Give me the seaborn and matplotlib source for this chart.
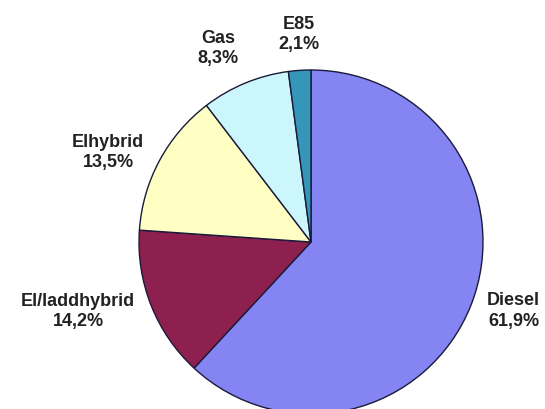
import matplotlib
matplotlib.use("Agg")
import matplotlib.pyplot as plt
import seaborn as sns

# Data
fuels = ["Diesel", "El/laddhybrid", "Elhybrid", "Gas", "E85"]
shares = [61.9, 14.2, 13.5, 8.3, 2.1]
colors = ["#8484F2", "#8E2050", "#FFFFC4", "#CBF6FB", "#3496B8"]

sns.set_theme(style="white")
plt.rcParams["font.family"] = ["Liberation Sans", "DejaVu Sans"]

fig = plt.figure(figsize=(5.45, 4.09), dpi=100)
ax = fig.add_axes([0, 0, 1, 1])

labels = [f"{f}\n{str(s).replace('.', ',')}%" for f, s in zip(fuels, shares)]
wedges, texts = ax.pie(
    shares, labels=labels, colors=sns.color_palette(colors),
    startangle=90, counterclock=False,
    center=(311, 167), radius=172, labeldistance=1.1,
    wedgeprops={"edgecolor": "#1a1a3a", "linewidth": 1.0},
    textprops={"fontsize": 13, "fontweight": "bold", "color": "#222222",
               "multialignment": "center", "linespacing": 1.25},
    frame=True,
)
ax.set_xlim(0, 545)
ax.set_ylim(0, 409)
ax.set_aspect("equal")
ax.axis("off")

# label alignment (like Excel's outside-end labels)
align = [("left", "center"), ("right", "center"), ("right", "center"),
         ("right", "bottom"), ("center", "bottom")]
for t, (ha, va) in zip(texts, align):
    t.set_ha(ha)
    t.set_va(va)

fig.savefig("out.png", dpi=100, facecolor="white")
